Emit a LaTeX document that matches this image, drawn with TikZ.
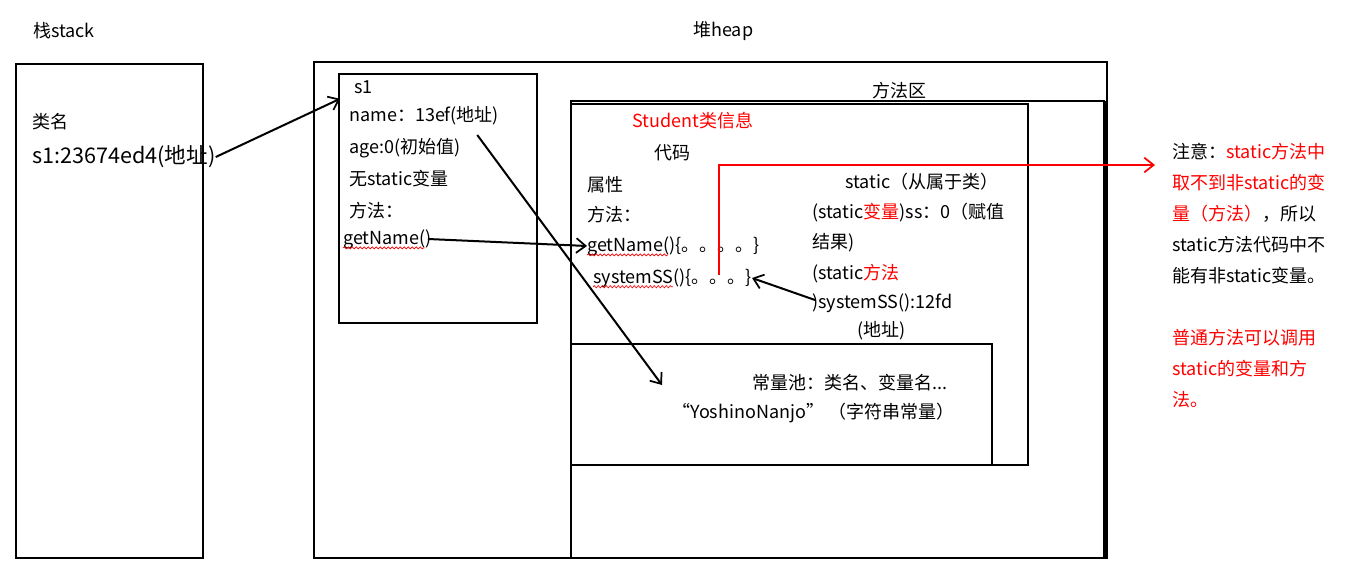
\documentclass[tikz,border=0pt]{standalone}
\usepackage{fontspec}
\setmainfont{Noto Sans CJK SC}
\usetikzlibrary{arrows.meta, decorations.pathmorphing, calc}

\begin{document}
\begin{tikzpicture}[x=0.75pt, y=-0.75pt]
        % 样式定义
        \tikzset{txt/.style={anchor=west, inner sep=0pt, font=\fontsize{13.5}{16}\selectfont}}
        \tikzset{box/.style={line width=1.5pt}}
        \tikzset{arrowA/.style={-{Straight Barb[length=7pt, width=11pt, line width=1.3pt]}, line width=1.5pt}}
        \tikzset{wavy/.style={red, line width=0.5pt, decorate, decoration={snake, amplitude=0.8pt, segment length=3pt}}}

        \useasboundingbox (0,0) rectangle (1349,578);

        % 1. 栈和堆的框
        \draw[box] (16,64) rectangle (203,558);
        \draw[box] (314,62) rectangle (1107,558);
        \draw[box] (339,74) rectangle (537,323);
        \draw[box] (1105,558) -- (571,558) -- (571,101) -- (1105,101);
        \draw[line width=2.4pt] (1105,101) -- (1105,558);
        \draw[box] (571,104) rectangle (1028,465);
        \draw[box] (571,344) rectangle (992,465);

        % 2. 标题
        \node[txt] (stack) at (33,31) {栈stack};
        \node[txt] (heap) at (693,31) {堆heap};
        \node[txt] (area) at (872,91) {方法区};

        % 3. 栈里的内容
        \node[txt] (cls) at (32,122) {类名};
        \node[txt, font=\fontsize{16.2}{19}\selectfont] (s1addr) at (32,157) {s1:23674ed4(地址)};

        % 4. 对象 s1
        \node[txt] (s1title) at (354,87) {s1};
        \node[txt] (sname) at (349,116) {name：13ef(地址)};
        \node[txt] (sage) at (349,148) {age:0(初始值)};
        \node[txt] (svar) at (349,179) {无static变量};
        \node[txt] (smeth) at (349,211) {方法：};
        \node[txt] (sgetname) at (343,239) {getName()};

        % 5. Student 类信息
        \node[txt, red] (student) at (632,121) {Student类信息};
        \node[txt] (code) at (654,153) {代码};
        \node[txt] (cattr) at (587,185) {属性};
        \node[txt] (cmeth) at (587,215) {方法：};
        \node[txt] (cgetname) at (587,246) {getName()\{。。。。\}};
        \node[txt] (csys) at (593,278) {systemSS()\{。。。\}};

        \node[txt] (static) at (845,182) {static（从属于类）};
        \node[txt] (svar1) at (812,213) {(static\textcolor{red}{变量})ss：0（赋值};
        \node[txt] (svar2) at (812,243) {结果)};
        \node[txt] (ssm1) at (812,274) {(static\textcolor{red}{方法}};
        \node[txt] (ssys) at (812,303) {)systemSS():12fd};
        \node[txt] (saddr) at (857,331) {(地址)};

        % 6. 常量池
        \node[txt] (pool) at (752,383) {常量池：类名、变量名...};
        \node[txt] (str) at (672,413) {“YoshinoNanjo” （字符串常量）};

        % 7. 注意
        \node[txt, anchor=north west, align=left, font=\fontsize{13.5}{23.25}\selectfont] (note) at (1172,143)
            {注意：\textcolor{red}{static方法中}\\
             \textcolor{red}{取不到非static的变}\\
             \textcolor{red}{量（方法）}，所以\\
             static方法代码中不\\
             能有非static变量。\\[23.25pt]
             \textcolor{red}{普通方法可以调用}\\
             \textcolor{red}{static的变量和方}\\
             \textcolor{red}{法。}};

        % 8. 波浪下划线
        \draw[wavy] ($(sgetname.south west)+(0,-1)$) -- ++(82,0);
        \draw[wavy] ($(cgetname.south west)+(0,-1)$) -- ++(81,0);
        \draw[wavy] ($(csys.south west)+(0,-1)$) -- ++(80,0);

        % 9. 箭头
        \coordinate (poolhit) at (662,385);
        \coordinate (redstart) at (719,275);
        \coordinate (rednote) at (1155,165);
        \draw[arrowA] (s1addr.east) -- ($(s1title.south west)+(-14,5)$);
        \draw[arrowA] ($(sgetname.east)+(-4,0)$) -- (cgetname.west);
        \draw[arrowA] ($(sname.east)+(-22,19)$) -- (poolhit);
        \draw[arrowA] ($(ssys.west)+(3,-3)$) -- (csys.east);
        \draw[arrowA, red, line width=1.4pt] (redstart) |- (rednote);
\end{tikzpicture}
\end{document}
